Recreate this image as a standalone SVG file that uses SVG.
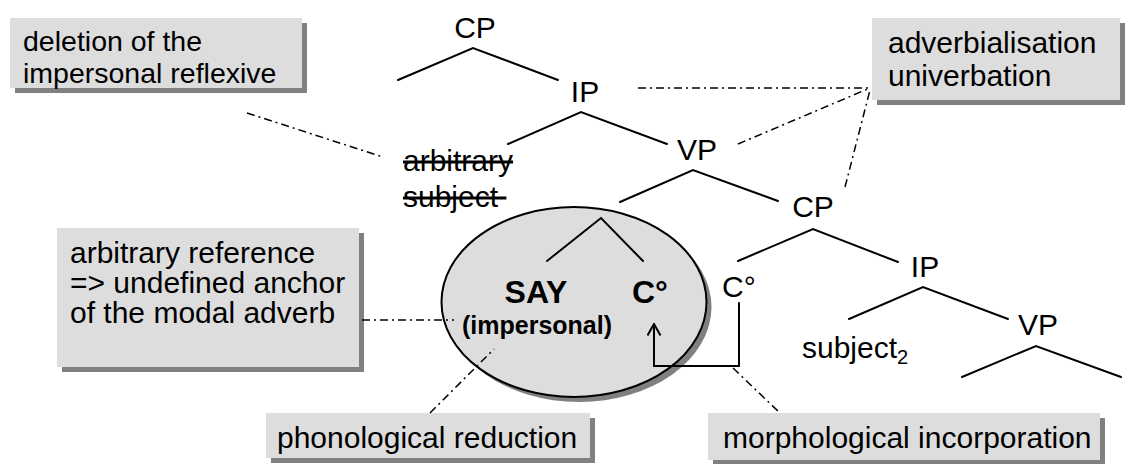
<svg xmlns="http://www.w3.org/2000/svg" width="1125" height="464" viewBox="0 0 1125 464">
  <style>
    text { font-family: "Liberation Sans", Arial, sans-serif; fill: #000; }
    .lbl { font-size: 30px; }
    .tree { font-size: 30px; text-anchor: middle; }
    .bold { font-weight: bold; }
    .branch { stroke: #000; stroke-width: 2; fill: none; stroke-linecap: round; }
    .link { stroke: #000; stroke-width: 1.5; fill: none; stroke-dasharray: 8 4 2 4; }
    .box { fill: #dddddd; }
    .shadow { fill: #808080; }
    .struck { text-decoration: line-through; }
  </style>
  <defs>
    <!-- open chevron arrowhead, tip on the path end -->
    <marker id="openHead" viewBox="0 0 14 15" refX="12.5" refY="7" markerWidth="14" markerHeight="15" markerUnits="userSpaceOnUse" orient="auto">
      <path d="M1,0.5 L12.5,7 L1,13.5" fill="none" stroke="#000" stroke-width="2"/>
    </marker>
  </defs>
  <rect width="1125" height="464" fill="#fff"/>

  <!-- annotation boxes -->
  <g id="box-deletion">
    <rect class="shadow" x="15" y="23" width="292" height="70"/>
    <rect class="box" x="10" y="18" width="292" height="70"/>
    <text class="lbl" x="23" y="51" style="font-size:28.5px">deletion of the</text>
    <text class="lbl" x="23" y="83" style="font-size:28.5px">impersonal reflexive</text>
  </g>
  <g id="box-adverbialisation">
    <rect class="shadow" x="877" y="23" width="248" height="82"/>
    <rect class="box" x="872" y="18" width="248" height="82"/>
    <text class="lbl" x="888" y="53">adverbialisation</text>
    <text class="lbl" x="888" y="86">univerbation</text>
  </g>
  <g id="box-arbitrary-reference">
    <rect class="shadow" x="62" y="233" width="302" height="139"/>
    <rect class="box" x="57" y="228" width="302" height="139"/>
    <text class="lbl" x="70" y="263">arbitrary reference</text>
    <text class="lbl" x="70" y="293">=&gt; undefined anchor</text>
    <text class="lbl" x="70" y="323">of the modal adverb</text>
  </g>
  <g id="box-phonological">
    <rect class="shadow" x="271" y="418" width="324" height="45"/>
    <rect class="box" x="266" y="413" width="324" height="45"/>
    <text class="lbl" x="277" y="448">phonological reduction</text>
  </g>
  <g id="box-morphological">
    <rect class="shadow" x="713" y="418" width="392" height="47"/>
    <rect class="box" x="708" y="413" width="392" height="47"/>
    <text class="lbl" x="723" y="448">morphological incorporation</text>
  </g>

  <!-- SAY + C° head cluster -->
  <g id="say-cluster">
    <ellipse class="shadow" cx="579" cy="307" rx="132.5" ry="95"/>
    <ellipse cx="574" cy="302" rx="132.5" ry="95" fill="#dddddd" stroke="#000" stroke-width="2"/>
    <path class="branch" d="M547,261 L601,218 L643,261"/>
    <text class="tree bold" x="536" y="303" style="font-size:32px">SAY</text>
    <text class="bold" x="632" y="303" style="font-size:32px">C°</text>
    <text class="tree bold" x="537" y="334" style="font-size:25px">(impersonal)</text>
  </g>

  <!-- upper tree -->
  <g id="cp-top">
    <text class="tree" x="475" y="38">CP</text>
    <path class="branch" d="M398,80 L473,48 L558,80"/>
  </g>
  <g id="ip-top">
    <text class="tree" x="585" y="102">IP</text>
    <path class="branch" d="M508,144 L581,112 L667,144"/>
  </g>
  <g id="arbitrary-subject">
    <text class="lbl struck" x="403" y="171">arbitrary</text>
    <text class="lbl struck" x="403" y="207" xml:space="preserve">subject </text>
  </g>
  <g id="vp-top">
    <text class="tree" x="697" y="160">VP</text>
    <path class="branch" d="M620,202 L693,170 L778,201"/>
  </g>
  <g id="cp-embedded">
    <text class="tree" x="813" y="217">CP</text>
    <path class="branch" d="M738,261 L813,229 L898,262"/>
  </g>
  <g id="c-head">
    <text class="lbl" x="722" y="297">C°</text>
  </g>
  <g id="ip-embedded">
    <text class="tree" x="925" y="277">IP</text>
    <path class="branch" d="M849,319 L923,287 L1008,319"/>
  </g>
  <g id="subject-2">
    <text class="lbl" x="802" y="358">subject<tspan style="font-size:20px" dy="6">2</tspan></text>
  </g>
  <g id="vp-embedded">
    <text class="tree" x="1038" y="335">VP</text>
    <path class="branch" d="M962,377 L1036,346 L1121,377"/>
  </g>

  <!-- connectors -->
  <g id="connectors">
    <path class="branch" d="M739,303 L739,366 L654,366 L654,324" marker-end="url(#openHead)"/>
    <line class="link" x1="247" y1="113" x2="383" y2="157"/>
    <line class="link" x1="638" y1="88" x2="870" y2="88"/>
    <line class="link" x1="738" y1="144" x2="870" y2="88"/>
    <line class="link" x1="845" y1="187" x2="870" y2="90"/>
    <line class="link" x1="362" y1="320" x2="454" y2="320"/>
    <line class="link" x1="430" y1="413" x2="494" y2="349"/>
    <line class="link" x1="733" y1="368" x2="780" y2="413"/>
  </g>
</svg>
